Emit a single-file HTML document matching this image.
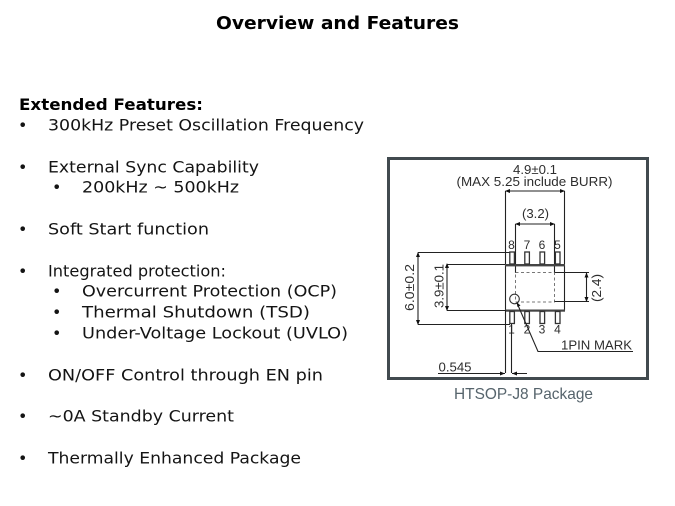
<!DOCTYPE html>
<html>
<head>
<meta charset="utf-8">
<style>
html,body{margin:0;padding:0;background:#fff;width:675px;height:506px;overflow:hidden}
svg{display:block}
.t{font-family:"DejaVu Sans",sans-serif;font-size:16px;fill:#141414}
.b{font-family:"DejaVu Sans",sans-serif;font-size:16px;font-weight:bold;fill:#000}
.d{font-family:"Liberation Sans",sans-serif;fill:#2e2e2e;font-size:13px}
.p{font-family:"Liberation Sans",sans-serif;fill:#2e2e2e;font-size:12px;text-anchor:middle}
.l{stroke:#222;stroke-width:1.1;fill:none}
</style>
</head>
<body>
<svg width="675" height="506" viewBox="0 0 675 506" xmlns="http://www.w3.org/2000/svg">
<text x="216" y="29" class="b" style="font-size:18px" textLength="243" lengthAdjust="spacingAndGlyphs">Overview and Features</text>

<text x="19" y="110" class="b" textLength="184" lengthAdjust="spacingAndGlyphs">Extended Features:</text>

<text x="18" y="130.7" class="t">•</text><text x="48" y="130.7" class="t" textLength="316" lengthAdjust="spacingAndGlyphs">300kHz Preset Oscillation Frequency</text>
<text x="18" y="172.7" class="t">•</text><text x="48" y="172.7" class="t" textLength="211" lengthAdjust="spacingAndGlyphs">External Sync Capability</text>
<text x="52" y="192.7" class="t">•</text><text x="82" y="192.7" class="t" textLength="157" lengthAdjust="spacingAndGlyphs">200kHz ~ 500kHz</text>
<text x="18" y="234.7" class="t">•</text><text x="48" y="234.7" class="t" textLength="161" lengthAdjust="spacingAndGlyphs">Soft Start function</text>
<text x="18" y="276.7" class="t">•</text><text x="48" y="276.7" class="t" textLength="178" lengthAdjust="spacingAndGlyphs">Integrated protection:</text>
<text x="52" y="296.7" class="t">•</text><text x="82" y="296.7" class="t" textLength="255" lengthAdjust="spacingAndGlyphs">Overcurrent Protection (OCP)</text>
<text x="52" y="317.7" class="t">•</text><text x="82" y="317.7" class="t" textLength="228" lengthAdjust="spacingAndGlyphs">Thermal Shutdown (TSD)</text>
<text x="52" y="338.7" class="t">•</text><text x="82" y="338.7" class="t" textLength="266" lengthAdjust="spacingAndGlyphs">Under-Voltage Lockout (UVLO)</text>
<text x="18" y="380.7" class="t">•</text><text x="48" y="380.7" class="t" textLength="275" lengthAdjust="spacingAndGlyphs">ON/OFF Control through EN pin</text>
<text x="18" y="421.7" class="t">•</text><text x="48" y="421.7" class="t" textLength="186" lengthAdjust="spacingAndGlyphs">~0A Standby Current</text>
<text x="18" y="463.7" class="t">•</text><text x="48" y="463.7" class="t" textLength="253" lengthAdjust="spacingAndGlyphs">Thermally Enhanced Package</text>

<!-- frame -->
<rect x="388.5" y="158.5" width="259" height="220" fill="#fff" stroke="#414a4f" stroke-width="3"/>

<!-- top dimension text -->
<text x="513" y="174" class="d" textLength="44" lengthAdjust="spacingAndGlyphs">4.9±0.1</text>
<text x="456.5" y="186" class="d" textLength="156" lengthAdjust="spacingAndGlyphs">(MAX 5.25 include BURR)</text>
<text x="522" y="218" class="d" textLength="27" lengthAdjust="spacingAndGlyphs">(3.2)</text>

<!-- dimension lines -->
<path class="l" d="M505.5 191V264M564.5 191V264M505.5 191H564.5"/>
<path class="l" d="M515.5 224V273M554.5 224V273M515.5 224H554.5"/>
<path d="M505 191l5-2v4zM565 191l-5-2v4zM515 224l5-2v4zM555 224l-5-2v4z" fill="#111"/>

<!-- left dims -->
<path class="l" d="M418 252.5H510M418 324.5H510M418 252.5V324.5"/>
<path class="l" d="M447 264.5H505M447 310.5H505M447 264.5V310.5"/>
<path d="M418 252l-2 5h4zM418 325l-2-5h4zM447 263l-2 5h4zM447 311l-2-5h4z" fill="#111"/>
<text transform="translate(414,311) rotate(-90)" class="d" textLength="47" lengthAdjust="spacingAndGlyphs">6.0±0.2</text>
<text transform="translate(443.5,308) rotate(-90)" class="d" textLength="44" lengthAdjust="spacingAndGlyphs">3.9±0.1</text>

<!-- package body -->
<path class="l" d="M505.5 265V310.5M564.5 265V310.5"/>
<rect x="505" y="264" width="60" height="2.4" fill="#444"/>
<rect x="505" y="309.5" width="60" height="2.2" fill="#444"/>
<rect x="515.5" y="272.5" width="39" height="29.5" fill="none" stroke="#777" stroke-width="1" stroke-dasharray="3 2.5"/>

<!-- pins -->
<g fill="#fff" stroke="#333" stroke-width="1.3">
<rect x="509.8" y="252" width="4.6" height="12"/>
<rect x="524.8" y="252" width="4.6" height="12"/>
<rect x="540" y="252" width="4.6" height="12"/>
<rect x="555.4" y="252" width="4.6" height="12"/>
<rect x="509.8" y="311.5" width="4.6" height="12"/>
<rect x="524.8" y="311.5" width="4.6" height="12"/>
<rect x="540" y="311.5" width="4.6" height="12"/>
<rect x="555.4" y="311.5" width="4.6" height="12"/>
</g>
<text x="511.5" y="249" class="p">8</text><text x="527" y="249" class="p">7</text><text x="542" y="249" class="p">6</text><text x="557.5" y="249" class="p">5</text>
<text x="511.5" y="333.5" class="p">1</text><text x="527" y="333.5" class="p">2</text><text x="542" y="333.5" class="p">3</text><text x="557.5" y="333.5" class="p">4</text>

<!-- 2.4 dim -->
<path class="l" d="M554.5 272.5H589M554.5 301.5H589M586.5 273V301"/>
<path d="M586.5 272.5l-2 5h4zM586.5 302l-2-5h4z" fill="#111"/>
<text transform="translate(601,302) rotate(-90)" class="d" textLength="28" lengthAdjust="spacingAndGlyphs">(2.4)</text>

<!-- pin mark -->
<circle cx="514.5" cy="299" r="4.8" fill="none" stroke="#333" stroke-width="1.1"/>
<path class="l" d="M517 303L538 351.5H633"/>
<path d="M516.5 302l4 3.5-3 1.5z" fill="#111"/>
<text x="561" y="349.3" class="d" textLength="71" lengthAdjust="spacingAndGlyphs">1PIN MARK</text>

<!-- 0.545 -->
<text x="438.5" y="371.5" class="d" textLength="33" lengthAdjust="spacingAndGlyphs">0.545</text>
<path class="l" d="M505.5 310V373M511.5 324V373M438 373.5H505M512 373.5H527"/>
<path d="M505 373.5l-5-2v4zM512 373.5l5-2v4z" fill="#111"/>

<text x="454" y="399" font-family="Liberation Sans, sans-serif" font-size="16" fill="#56646c" textLength="139" lengthAdjust="spacingAndGlyphs">HTSOP-J8 Package</text>
</svg>
</body>
</html>
